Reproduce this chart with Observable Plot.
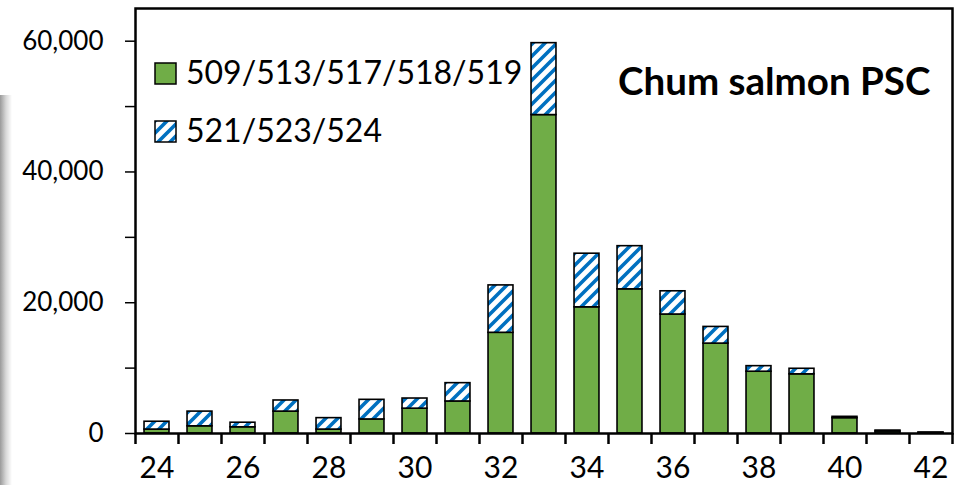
<!DOCTYPE html>
<html>
<head>
<meta charset="utf-8">
<script src="https://cdn.jsdelivr.net/npm/d3@7"></script>
<script src="https://cdn.jsdelivr.net/npm/@observablehq/plot@0.6"></script>
<style>
  html, body { margin: 0; padding: 0; background: #fff; }
  #wrap { position: relative; width: 954px; height: 485px; overflow: hidden; }
  #shadow { position: absolute; left: 0; top: 95px; width: 12px; height: 400px;
            background: linear-gradient(to right, #9a9a9a, #d8d8d8 50%, rgba(255,255,255,0)); }
  #overlay { position: absolute; left: 0; top: 0; pointer-events: none; }
</style>
</head>
<body>
<div id="wrap">
  <div id="shadow"></div>
  <div id="chart"></div>
  <svg id="overlay" width="954" height="485"></svg>
</div>
<script>
// ---- data ----
const ages = [24, 25, 26, 27, 28, 29, 30, 31, 32, 33, 34, 35, 36, 37, 38, 39, 40, 41, 42];
const seriesNames = ["509/513/517/518/519", "521/523/524"];
const greenValues = [600, 1100, 950, 3350, 600, 2150, 3800, 4900, 15400, 48700, 19300, 22050, 18200, 13750, 9450, 9050, 2350, 300, 100];
const blueValues  = [1200, 2250, 700, 1700, 1750, 3000, 1550, 2800, 7250, 11000, 8200, 6600, 3550, 2550, 850, 850, 200, 150, 50];
const xTickLabels = [24, 26, 28, 30, 32, 34, 36, 38, 40, 42];
const yTickValues = [0, 10000, 20000, 30000, 40000, 50000, 60000];
const titleText = "Chum salmon PSC";

const greenColor = "#70AD47";
const blueColor = "#0070C0";

const rows = ages.map((a, i) => ({age: a, green: greenValues[i], blue: blueValues[i]}));
const half = 0.29;
const boundaries = ages.map(a => a - 0.5).concat([ages[ages.length - 1] + 0.5]);

const NS = "http://www.w3.org/2000/svg";
function hatchDefs(id) {
  const defs = document.createElementNS(NS, "defs");
  defs.innerHTML = `<pattern id="${id}" patternUnits="userSpaceOnUse" width="12" height="12">
    <rect width="12" height="12" fill="white"/>
    <path d="M0,12 L12,0 M-6,6 L6,-6 M6,18 L18,6" stroke="${blueColor}" stroke-width="3.6"/>
  </pattern>`;
  return defs;
}

const chart = Plot.plot({
  width: 954,
  height: 485,
  marginLeft: 135,
  marginRight: 2,
  marginTop: 8,
  marginBottom: 52,
  style: {fontFamily: "Lato, 'Open Sans', sans-serif", color: "black", background: "transparent"},
  x: {type: "linear", domain: [ages[0] - 0.5, ages[ages.length - 1] + 0.5]},
  y: {domain: [0, 65000]},
  marks: [
    () => hatchDefs("hatch"),
    Plot.rectY(rows, {x1: d => d.age - half, x2: d => d.age + half, y1: 0, y2: "green",
      fill: greenColor, stroke: "black", strokeWidth: 1.6}),
    Plot.rectY(rows, {x1: d => d.age - half, x2: d => d.age + half, y1: "green", y2: d => d.green + d.blue,
      fill: "url(#hatch)", stroke: "black", strokeWidth: 1.6}),
    Plot.axisY({ticks: yTickValues, tickSize: 10, tickPadding: 22, fontSize: 26,
      strokeWidth: 1.5,
      tickFormat: d => d % 20000 === 0 ? d3.format(",")(d) : "", label: null}),
    Plot.axisX({ticks: boundaries, tickSize: 11, strokeWidth: 2.5, tickFormat: () => "", label: null}),
    Plot.axisX({ticks: xTickLabels, tickSize: 0, tickPadding: 23, fontSize: 30, tickFormat: d => String(d), label: null}),
    Plot.frame({stroke: "black", strokeWidth: 2.5})
  ]
});
document.getElementById("chart").appendChild(chart);

// ---- legend + title overlay ----
const ov = document.getElementById("overlay");
ov.appendChild(hatchDefs("hatchLegend"));
const legendItems = [
  {name: seriesNames[0], fill: greenColor, y: 63, baseline: 84},
  {name: seriesNames[1], fill: "url(#hatchLegend)", y: 121, baseline: 142}
];
for (const it of legendItems) {
  const r = document.createElementNS(NS, "rect");
  r.setAttribute("x", 155); r.setAttribute("y", it.y);
  r.setAttribute("width", 21); r.setAttribute("height", 21);
  r.setAttribute("fill", it.fill); r.setAttribute("stroke", "black"); r.setAttribute("stroke-width", 1.5);
  ov.appendChild(r);
  const t = document.createElementNS(NS, "text");
  t.setAttribute("x", 186); t.setAttribute("y", it.baseline);
  t.setAttribute("font-family", "Lato, 'Open Sans', sans-serif");
  t.setAttribute("font-size", 32);
  t.textContent = it.name;
  ov.appendChild(t);
}
const title = document.createElementNS(NS, "text");
title.setAttribute("x", 618); title.setAttribute("y", 95);
title.setAttribute("font-family", "Lato, 'Open Sans', sans-serif");
title.setAttribute("font-size", 38.5);
title.setAttribute("font-weight", "bold");
title.textContent = titleText;
ov.appendChild(title);
</script>
</body>
</html>
